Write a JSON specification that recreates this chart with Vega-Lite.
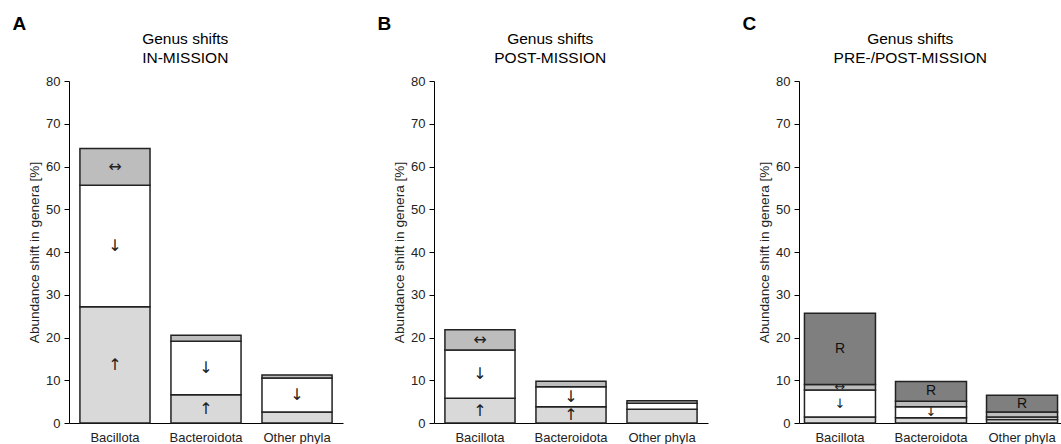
{
  "$schema": "https://vega.github.io/schema/vega-lite/v6.json",
  "padding": {"left": 12, "top": 14, "right": 0, "bottom": 0},
  "background": "white",
  "config": {
    "view": {"stroke": null},
    "font": "Liberation Sans",
    "axisY": {"domainColor": "#000", "tickColor": "#000", "tickSize": 5, "labelPadding": 4, "labelFontSize": 13, "labelColor": "#222", "titleFontSize": 13.6, "titleFontWeight": "normal", "titleColor": "#222", "titlePadding": 4, "grid": false},
    "axisX": {"domainColor": "#000", "ticks": false, "labelPadding": 8, "labelFontSize": 13, "labelColor": "#222", "labelAngle": 0, "title": null, "grid": false}
  },
  "datasets": {
    "segs": [
      {"panel": "A", "phylum": "Bacillota", "cat": "up", "ord": 1, "value": 27.2, "label": "↑"},
      {"panel": "A", "phylum": "Bacillota", "cat": "down", "ord": 2, "value": 28.4, "label": "↓"},
      {"panel": "A", "phylum": "Bacillota", "cat": "neutral", "ord": 3, "value": 8.6, "label": "↔"},
      {"panel": "A", "phylum": "Bacteroidota", "cat": "up", "ord": 1, "value": 6.6, "label": "↑"},
      {"panel": "A", "phylum": "Bacteroidota", "cat": "down", "ord": 2, "value": 12.5, "label": "↓"},
      {"panel": "A", "phylum": "Bacteroidota", "cat": "neutral", "ord": 3, "value": 1.4, "label": ""},
      {"panel": "A", "phylum": "Other phyla", "cat": "up", "ord": 1, "value": 2.6, "label": ""},
      {"panel": "A", "phylum": "Other phyla", "cat": "down", "ord": 2, "value": 7.9, "label": "↓"},
      {"panel": "A", "phylum": "Other phyla", "cat": "neutral", "ord": 3, "value": 0.7, "label": ""},
      {"panel": "B", "phylum": "Bacillota", "cat": "up", "ord": 1, "value": 5.8, "label": "↑"},
      {"panel": "B", "phylum": "Bacillota", "cat": "down", "ord": 2, "value": 11.3, "label": "↓"},
      {"panel": "B", "phylum": "Bacillota", "cat": "neutral", "ord": 3, "value": 4.7, "label": "↔"},
      {"panel": "B", "phylum": "Bacteroidota", "cat": "up", "ord": 1, "value": 3.8, "label": "↑"},
      {"panel": "B", "phylum": "Bacteroidota", "cat": "down", "ord": 2, "value": 4.7, "label": "↓"},
      {"panel": "B", "phylum": "Bacteroidota", "cat": "neutral", "ord": 3, "value": 1.25, "label": ""},
      {"panel": "B", "phylum": "Other phyla", "cat": "up", "ord": 1, "value": 3.2, "label": ""},
      {"panel": "B", "phylum": "Other phyla", "cat": "down", "ord": 2, "value": 1.4, "label": ""},
      {"panel": "B", "phylum": "Other phyla", "cat": "neutral", "ord": 3, "value": 0.6, "label": ""},
      {"panel": "C", "phylum": "Bacillota", "cat": "up", "ord": 1, "value": 1.4, "label": ""},
      {"panel": "C", "phylum": "Bacillota", "cat": "down", "ord": 2, "value": 6.3, "label": "↓"},
      {"panel": "C", "phylum": "Bacillota", "cat": "neutral", "ord": 3, "value": 1.3, "label": "↔"},
      {"panel": "C", "phylum": "Bacillota", "cat": "R", "ord": 4, "value": 16.7, "label": "R"},
      {"panel": "C", "phylum": "Bacteroidota", "cat": "up", "ord": 1, "value": 1.2, "label": ""},
      {"panel": "C", "phylum": "Bacteroidota", "cat": "down", "ord": 2, "value": 2.6, "label": "↓"},
      {"panel": "C", "phylum": "Bacteroidota", "cat": "neutral", "ord": 3, "value": 1.3, "label": ""},
      {"panel": "C", "phylum": "Bacteroidota", "cat": "R", "ord": 4, "value": 4.6, "label": "R"},
      {"panel": "C", "phylum": "Other phyla", "cat": "up", "ord": 1, "value": 0.8, "label": ""},
      {"panel": "C", "phylum": "Other phyla", "cat": "down", "ord": 2, "value": 0.6, "label": ""},
      {"panel": "C", "phylum": "Other phyla", "cat": "neutral", "ord": 3, "value": 1.2, "label": ""},
      {"panel": "C", "phylum": "Other phyla", "cat": "R", "ord": 4, "value": 3.9, "label": "R"}
    ]
  },
  "spacing": 34,
  "hconcat": [
    {
      "title": {"text": "A", "anchor": "start", "fontSize": 19, "fontWeight": "bold", "color": "#000", "dx": -15, "dy": 2, "offset": 0},
      "vconcat": [
        {
          "title": {"text": ["Genus shifts", "IN-MISSION"], "anchor": "middle", "frame": "bounds", "fontSize": 15.5, "fontWeight": "normal", "color": "#000", "lineHeight": 19, "offset": 9},
          "width": 274, "height": 342,
          "data": {"name": "segs"},
          "transform": [{"filter": "datum.panel === 'A'"}],
          "encoding": {
            "x": {"field": "phylum", "type": "nominal", "sort": ["Bacillota", "Bacteroidota", "Other phyla"], "scale": {"paddingInner": 0.23, "paddingOuter": 0.12}}
          },
          "layer": [
            {
              "transform": [{"stack": "value", "groupby": ["phylum"], "sort": [{"field": "ord", "order": "ascending"}], "as": ["y0", "y1"]}],
              "mark": {"type": "bar", "stroke": "#222", "strokeWidth": 1.5},
              "encoding": {
                "y": {"field": "y0", "type": "quantitative", "scale": {"domain": [0, 80]}, "axis": {"values": [0, 10, 20, 30, 40, 50, 60, 70, 80], "title": "Abundance shift in genera [%]"}},
                "y2": {"field": "y1"},
                "color": {"field": "cat", "type": "nominal", "scale": {"domain": ["up", "down", "neutral", "R"], "range": ["#d9d9d9", "#ffffff", "#bdbdbd", "#7f7f7f"]}, "legend": null}
              }
            },
            {
              "transform": [
                {"stack": "value", "groupby": ["phylum"], "sort": [{"field": "ord", "order": "ascending"}], "as": ["y0", "y1"]},
                {"filter": "datum.label"},
                {"fold": ["y0", "y1"], "as": ["edge", "pos"]},
                {"aggregate": [{"op": "mean", "field": "pos", "as": "mid"}], "groupby": ["phylum", "cat", "label"]}
              ],
              "mark": {"type": "text", "font": "DejaVu Sans", "fontSize": 16, "color": "#222", "baseline": "middle"},
              "encoding": {
                "y": {"field": "mid", "type": "quantitative", "scale": {"domain": [0, 80]}, "axis": {"values": [0, 10, 20, 30, 40, 50, 60, 70, 80], "title": "Abundance shift in genera [%]"}},
                "text": {"field": "label"}
              }
            }
          ]
        }
      ]
    },
    {
      "title": {"text": "B", "anchor": "start", "fontSize": 19, "fontWeight": "bold", "color": "#000", "dx": -15, "dy": 2, "offset": 0},
      "vconcat": [
        {
          "title": {"text": ["Genus shifts", "POST-MISSION"], "anchor": "middle", "frame": "bounds", "fontSize": 15.5, "fontWeight": "normal", "color": "#000", "lineHeight": 19, "offset": 9},
          "width": 274, "height": 342,
          "data": {"name": "segs"},
          "transform": [{"filter": "datum.panel === 'B'"}],
          "encoding": {
            "x": {"field": "phylum", "type": "nominal", "sort": ["Bacillota", "Bacteroidota", "Other phyla"], "scale": {"paddingInner": 0.23, "paddingOuter": 0.12}}
          },
          "layer": [
            {
              "transform": [{"stack": "value", "groupby": ["phylum"], "sort": [{"field": "ord", "order": "ascending"}], "as": ["y0", "y1"]}],
              "mark": {"type": "bar", "stroke": "#222", "strokeWidth": 1.5},
              "encoding": {
                "y": {"field": "y0", "type": "quantitative", "scale": {"domain": [0, 80]}, "axis": {"values": [0, 10, 20, 30, 40, 50, 60, 70, 80], "title": "Abundance shift in genera [%]"}},
                "y2": {"field": "y1"},
                "color": {"field": "cat", "type": "nominal", "scale": {"domain": ["up", "down", "neutral", "R"], "range": ["#d9d9d9", "#ffffff", "#bdbdbd", "#7f7f7f"]}, "legend": null}
              }
            },
            {
              "transform": [
                {"stack": "value", "groupby": ["phylum"], "sort": [{"field": "ord", "order": "ascending"}], "as": ["y0", "y1"]},
                {"filter": "datum.label"},
                {"fold": ["y0", "y1"], "as": ["edge", "pos"]},
                {"aggregate": [{"op": "mean", "field": "pos", "as": "mid"}], "groupby": ["phylum", "cat", "label"]}
              ],
              "mark": {"type": "text", "font": "DejaVu Sans", "fontSize": 16, "color": "#222", "baseline": "middle"},
              "encoding": {
                "y": {"field": "mid", "type": "quantitative", "scale": {"domain": [0, 80]}, "axis": {"values": [0, 10, 20, 30, 40, 50, 60, 70, 80], "title": "Abundance shift in genera [%]"}},
                "text": {"field": "label"}
              }
            }
          ]
        }
      ]
    },
    {
      "title": {"text": "C", "anchor": "start", "fontSize": 19, "fontWeight": "bold", "color": "#000", "dx": -15, "dy": 2, "offset": 0},
      "vconcat": [
        {
          "title": {"text": ["Genus shifts", "PRE-/POST-MISSION"], "anchor": "middle", "frame": "bounds", "fontSize": 15.5, "fontWeight": "normal", "color": "#000", "lineHeight": 19, "offset": 9},
          "width": 264, "height": 342,
          "data": {"name": "segs"},
          "transform": [{"filter": "datum.panel === 'C'"}],
          "encoding": {
            "x": {"field": "phylum", "type": "nominal", "sort": ["Bacillota", "Bacteroidota", "Other phyla"], "scale": {"paddingInner": 0.22, "paddingOuter": 0.06}}
          },
          "layer": [
            {
              "transform": [{"stack": "value", "groupby": ["phylum"], "sort": [{"field": "ord", "order": "ascending"}], "as": ["y0", "y1"]}],
              "mark": {"type": "bar", "stroke": "#222", "strokeWidth": 1.5},
              "encoding": {
                "y": {"field": "y0", "type": "quantitative", "scale": {"domain": [0, 80]}, "axis": {"values": [0, 10, 20, 30, 40, 50, 60, 70, 80], "title": "Abundance shift in genera [%]"}},
                "y2": {"field": "y1"},
                "color": {"field": "cat", "type": "nominal", "scale": {"domain": ["up", "down", "neutral", "R"], "range": ["#d9d9d9", "#ffffff", "#bdbdbd", "#7f7f7f"]}, "legend": null}
              }
            },
            {
              "transform": [
                {"stack": "value", "groupby": ["phylum"], "sort": [{"field": "ord", "order": "ascending"}], "as": ["y0", "y1"]},
                {"filter": "datum.label && datum.cat !== 'R'"},
                {"fold": ["y0", "y1"], "as": ["edge", "pos"]},
                {"aggregate": [{"op": "mean", "field": "pos", "as": "mid"}], "groupby": ["phylum", "cat", "label"]}
              ],
              "mark": {"type": "text", "font": "DejaVu Sans", "fontSize": 13, "color": "#222", "baseline": "middle"},
              "encoding": {
                "y": {"field": "mid", "type": "quantitative", "scale": {"domain": [0, 80]}, "axis": {"values": [0, 10, 20, 30, 40, 50, 60, 70, 80], "title": "Abundance shift in genera [%]"}},
                "text": {"field": "label"}
              }
            },
            {
              "transform": [
                {"stack": "value", "groupby": ["phylum"], "sort": [{"field": "ord", "order": "ascending"}], "as": ["y0", "y1"]},
                {"filter": "datum.cat === 'R'"},
                {"fold": ["y0", "y1"], "as": ["edge", "pos"]},
                {"aggregate": [{"op": "mean", "field": "pos", "as": "mid"}], "groupby": ["phylum", "cat", "label"]}
              ],
              "mark": {"type": "text", "font": "Liberation Sans", "fontSize": 14, "color": "#111", "baseline": "middle"},
              "encoding": {
                "y": {"field": "mid", "type": "quantitative", "scale": {"domain": [0, 80]}, "axis": {"values": [0, 10, 20, 30, 40, 50, 60, 70, 80], "title": "Abundance shift in genera [%]"}},
                "text": {"field": "label"}
              }
            }
          ]
        }
      ]
    }
  ]
}
